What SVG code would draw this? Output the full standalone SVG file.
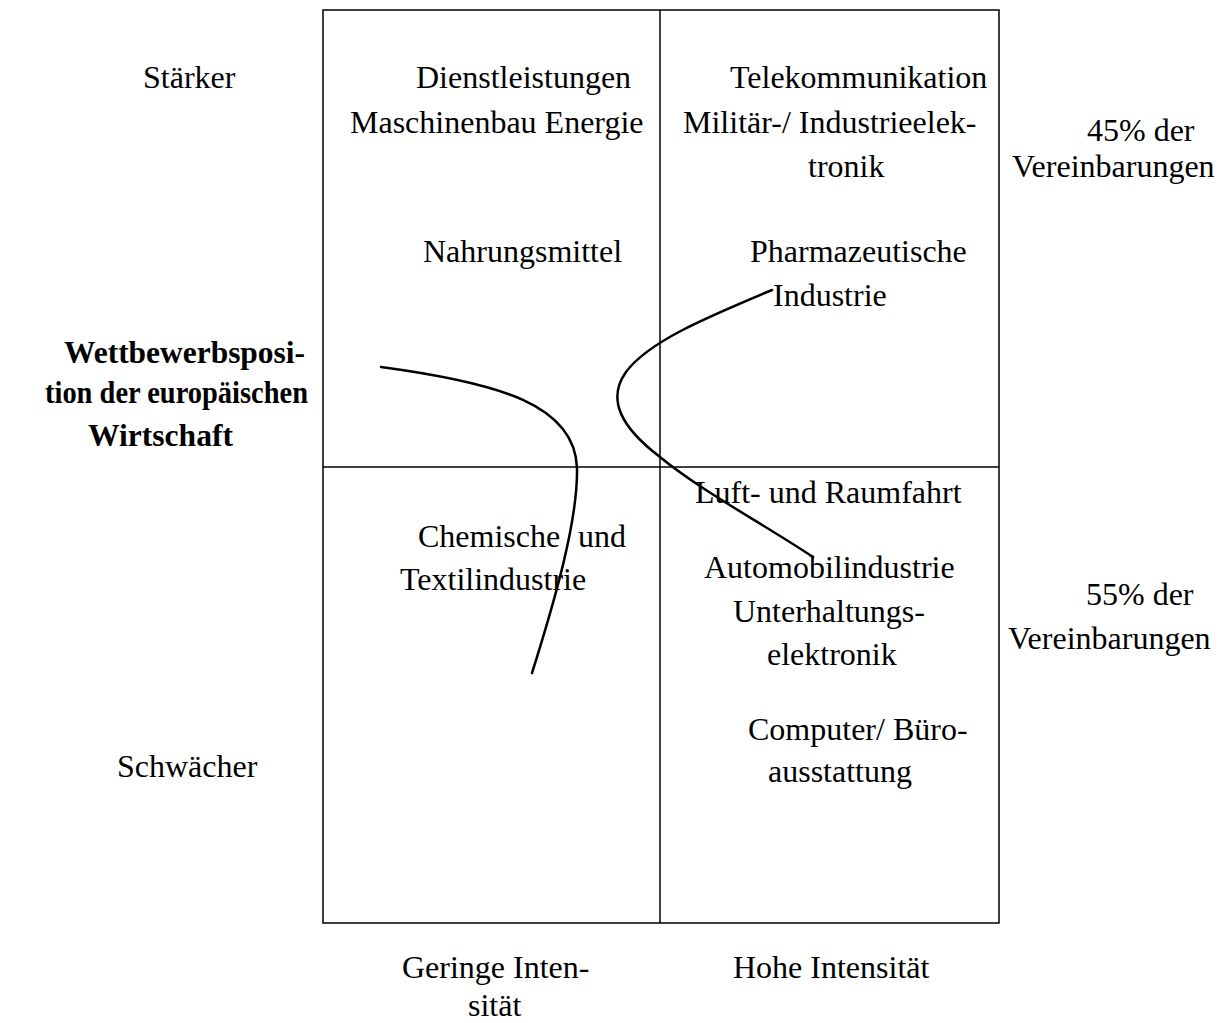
<svg xmlns="http://www.w3.org/2000/svg" width="1222" height="1023" viewBox="0 0 1222 1023">
<style>
text{font-family:"Liberation Serif","Times New Roman",serif;font-size:32px;fill:#000}
.b{font-weight:bold}
.grid{fill:none;stroke:#000;stroke-width:1.5}
.curve{fill:none;stroke:#000;stroke-width:2.5;stroke-linecap:round}
</style>
<rect width="1222" height="1023" fill="#fff"/>
<g id="matrix">
<rect class="grid" x="323" y="10" width="676" height="913"/>
<line class="grid" x1="660" y1="10" x2="660" y2="923"/>
<line class="grid" x1="323" y1="467" x2="999" y2="467"/>
</g>
<g id="axis-labels">
<text x="143" y="88">Stärker</text>
<text x="117" y="777">Schwächer</text>
<text class="b" x="64" y="363" textLength="241" lengthAdjust="spacingAndGlyphs">Wettbewerbsposi-</text>
<text class="b" x="45" y="403" textLength="263" lengthAdjust="spacingAndGlyphs">tion der europäischen</text>
<text class="b" x="88" y="446" textLength="145" lengthAdjust="spacingAndGlyphs">Wirtschaft</text>
<text x="402" y="978">Geringe Inten-</text>
<text x="468" y="1016">sität</text>
<text x="733" y="978">Hohe Intensität</text>
<text x="1087" y="141">45% der</text>
<text x="1012" y="177">Vereinbarungen</text>
<text x="1086" y="605">55% der</text>
<text x="1008" y="649">Vereinbarungen</text>
</g>
<g id="q-top-left">
<text x="416" y="88">Dienstleistungen</text>
<text x="350" y="133">Maschinenbau Energie</text>
<text x="423" y="262">Nahrungsmittel</text>
</g>
<g id="q-top-right">
<text x="730" y="88">Telekommunikation</text>
<text x="683" y="133">Militär-/ Industrieelek-</text>
<text x="808" y="177">tronik</text>
<text x="750" y="262">Pharmazeutische</text>
<text x="773" y="306">Industrie</text>
</g>
<g id="q-bottom-left">
<text x="418" y="547">Chemische</text>
<text x="578" y="547">und</text>
<text x="400" y="590">Textilindustrie</text>
</g>
<g id="q-bottom-right">
<text x="695" y="503">Luft- und Raumfahrt</text>
<text x="704" y="578">Automobilindustrie</text>
<text x="733" y="622">Unterhaltungs-</text>
<text x="767" y="665">elektronik</text>
<text x="748" y="740">Computer/ Büro-</text>
<text x="768" y="782">ausstattung</text>
</g>
<g id="connectors">
<path class="curve" d="M381,367 C500,383 575,405 577,468 C578,520 555,600 532,673"/>
<path class="curve" d="M772,290 C705,318 648,342 626,372 C606,400 622,428 660,457 C700,490 760,522 813,557"/>
</g>
</svg>
